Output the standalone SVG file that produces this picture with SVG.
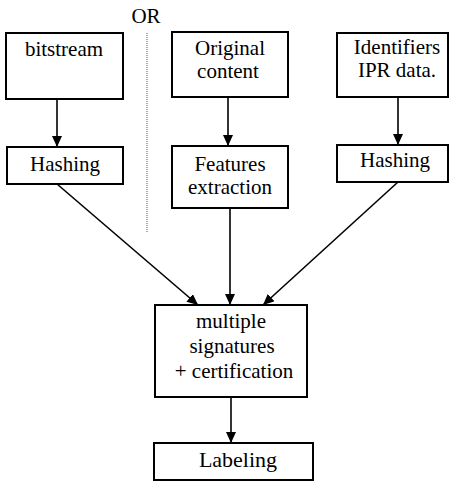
<svg xmlns="http://www.w3.org/2000/svg" width="449" height="483" viewBox="0 0 449 483">
<defs>
<marker id="ah" markerUnits="userSpaceOnUse" markerWidth="12" markerHeight="10" refX="11" refY="5" orient="auto">
<path d="M0,0 L11,5 L0,10 z" fill="#000"/>
</marker>
</defs>
<rect width="449" height="483" fill="#fff"/>
<text id="or" x="146" y="23" font-family="Liberation Serif" font-size="21" text-anchor="middle">OR</text>
<line x1="147" y1="33" x2="147" y2="232" stroke="#555" stroke-width="1" stroke-dasharray="1,1"/>
<g id="connectors" stroke="#000" stroke-width="1.6" fill="none" marker-end="url(#ah)">
<line x1="57" y1="99" x2="57" y2="147"/>
<line x1="228" y1="97" x2="228" y2="146"/>
<line x1="398" y1="97" x2="398" y2="145"/>
<line x1="57" y1="184" x2="198" y2="305"/>
<line x1="230" y1="208" x2="230" y2="305"/>
<line x1="398" y1="182" x2="263" y2="305"/>
<line x1="231" y1="397" x2="231" y2="443"/>
</g>
<g id="bitstream">
<rect x="6" y="33" width="117" height="66" fill="#fff" stroke="#000" stroke-width="2"/>
<text x="64" y="56" font-family="Liberation Serif" font-size="21" text-anchor="middle">bitstream</text>
</g>
<g id="original">
<rect x="172" y="32" width="116" height="65" fill="#fff" stroke="#000" stroke-width="2"/>
<text x="230" y="55" font-family="Liberation Serif" font-size="21" text-anchor="middle">Original</text>
<text x="228" y="78" font-family="Liberation Serif" font-size="21" text-anchor="middle">content</text>
</g>
<g id="identifiers">
<rect x="337" y="33" width="111" height="64" fill="#fff" stroke="#000" stroke-width="2"/>
<text x="397" y="54" font-family="Liberation Serif" font-size="21" text-anchor="middle">Identifiers</text>
<text x="397" y="77" font-family="Liberation Serif" font-size="21" text-anchor="middle">IPR data.</text>
</g>
<g id="hashing1">
<rect x="7" y="147" width="116" height="37" fill="#fff" stroke="#000" stroke-width="2"/>
<text x="65" y="171" font-family="Liberation Serif" font-size="21" text-anchor="middle">Hashing</text>
</g>
<g id="features">
<rect x="172" y="146" width="116" height="62" fill="#fff" stroke="#000" stroke-width="2"/>
<text x="230" y="171" font-family="Liberation Serif" font-size="21" text-anchor="middle">Features</text>
<text x="230" y="194" font-family="Liberation Serif" font-size="21" text-anchor="middle">extraction</text>
</g>
<g id="hashing2">
<rect x="337" y="145" width="111" height="37" fill="#fff" stroke="#000" stroke-width="2"/>
<text x="395" y="167" font-family="Liberation Serif" font-size="21" text-anchor="middle">Hashing</text>
</g>
<g id="signatures">
<rect x="155" y="305" width="152" height="92" fill="#fff" stroke="#000" stroke-width="2"/>
<text x="231" y="328" font-family="Liberation Serif" font-size="21" text-anchor="middle">multiple</text>
<text x="232" y="353" font-family="Liberation Serif" font-size="21" text-anchor="middle">signatures</text>
<text x="234" y="378" font-family="Liberation Serif" font-size="21" text-anchor="middle">+ certification</text>
</g>
<g id="labeling">
<rect x="154" y="443" width="159" height="37" fill="#fff" stroke="#000" stroke-width="2"/>
<text x="238" y="467" font-family="Liberation Serif" font-size="22" text-anchor="middle">Labeling</text>
</g>
</svg>
